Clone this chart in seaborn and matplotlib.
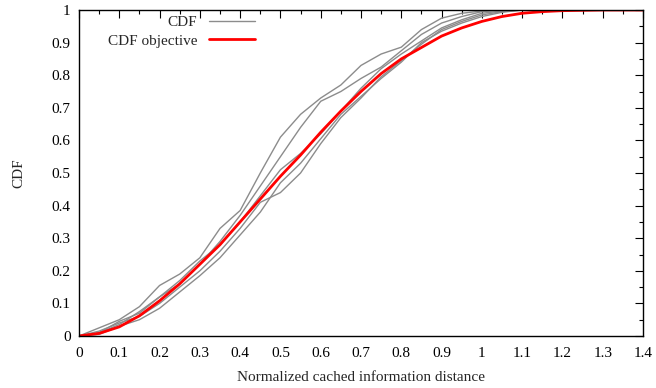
import numpy as np
import pandas as pd
import matplotlib
matplotlib.use("Agg")
import matplotlib.pyplot as plt
import seaborn as sns
from matplotlib.ticker import MultipleLocator, FuncFormatter

dist = [0, 0.05, 0.1, 0.15, 0.2, 0.25, 0.3, 0.35, 0.4, 0.45, 0.5, 0.55, 0.6,
        0.65, 0.7, 0.75, 0.8, 0.85, 0.9, 0.95, 1.0, 1.05, 1.1, 1.15, 1.2,
        1.25, 1.3, 1.35, 1.4]

# measured CDFs (grey)
cdf_a = [0, .025, .05, .09, .155, .19, .24, .33, .385, .50, .61, .68, .73, .77,
         .83, .865, .886, .94, .975, .99, .997, 1, 1, 1, 1, 1, 1, 1, 1]
cdf_b = [0, .01, .045, .07, .12, .16, .22, .29, .37, .46, .55, .64, .72, .75,
         .79, .825, .875, .925, .96, .98, .995, 1, 1, 1, 1, 1, 1, 1, 1]
cdf_c = [0, .01, .035, .075, .12, .17, .23, .28, .35, .43, .51, .56, .62, .69,
         .76, .82, .865, .905, .945, .97, .99, .997, 1, 1, 1, 1, 1, 1, 1]
cdf_d = [0, .015, .04, .06, .10, .15, .20, .26, .33, .41, .44, .50, .59, .67,
         .73, .795, .845, .895, .94, .965, .985, .995, 1, 1, 1, 1, 1, 1, 1]
cdf_e = [0, .005, .03, .05, .085, .135, .185, .24, .31, .38, .47, .53, .605, .68,
         .735, .79, .84, .90, .935, .96, .98, .993, 1, 1, 1, 1, 1, 1, 1]

# objective CDF (red)
cdf_obj = [0, .008, .028, .062, .108, .16, .22, .28, .35, .42, .49, .555, .625,
           .69, .75, .805, .85, .885, .92, .945, .965, .98, .99, .995, .998,
           .999, 1, 1, 1]

sns.set_style("white")
plt.rcParams["font.family"] = ["Liberation Serif", "DejaVu Serif"]

fig = plt.figure(figsize=(6.56, 3.88), dpi=100)
ax = fig.add_axes([0.1204, 0.134, 0.8598, 0.8402])

grey = "#8c8c8c"
for i, s in enumerate([cdf_a, cdf_b, cdf_c, cdf_d, cdf_e]):
    sns.lineplot(x=dist, y=s, color=grey, linewidth=1.0, ax=ax,
                 label="CDF" if i == 0 else None, legend=False)
sns.lineplot(x=dist, y=cdf_obj, color="#ff0000", linewidth=2.0, ax=ax,
             label="CDF objective", legend=False)

ax.set_xlim(0, 1.4)
ax.set_ylim(0, 1)
ax.xaxis.set_major_locator(MultipleLocator(0.1))
ax.xaxis.set_minor_locator(MultipleLocator(0.05))
ax.yaxis.set_major_locator(MultipleLocator(0.1))
ax.yaxis.set_minor_locator(MultipleLocator(0.05))
fmt = FuncFormatter(lambda v, p: ("%.1f" % v).rstrip("0").rstrip("."))
ax.xaxis.set_major_formatter(fmt)
ax.yaxis.set_major_formatter(fmt)
ax.tick_params(which="both", direction="in", top=True, right=True,
               colors="black", labelsize=11)
ax.tick_params(axis="x", which="major", length=6, width=0.8, pad=8)
ax.tick_params(axis="y", which="major", length=6, width=0.8, pad=6)
ax.tick_params(which="minor", length=3, width=0.8)
for sp in ax.spines.values():
    sp.set_color("black")
    sp.set_linewidth(1.0)

ax.set_xlabel("Normalized cached information distance", fontsize=11, labelpad=8)
ax.set_ylabel("CDF", fontsize=11, labelpad=19)

ax.legend(loc="upper right", bbox_to_anchor=(0.33, 1.013), frameon=False,
          markerfirst=False, fontsize=11, handlelength=3.0,
          handletextpad=0.8, labelspacing=0.3, borderaxespad=0.25)

fig.savefig("out.png", dpi=100)
